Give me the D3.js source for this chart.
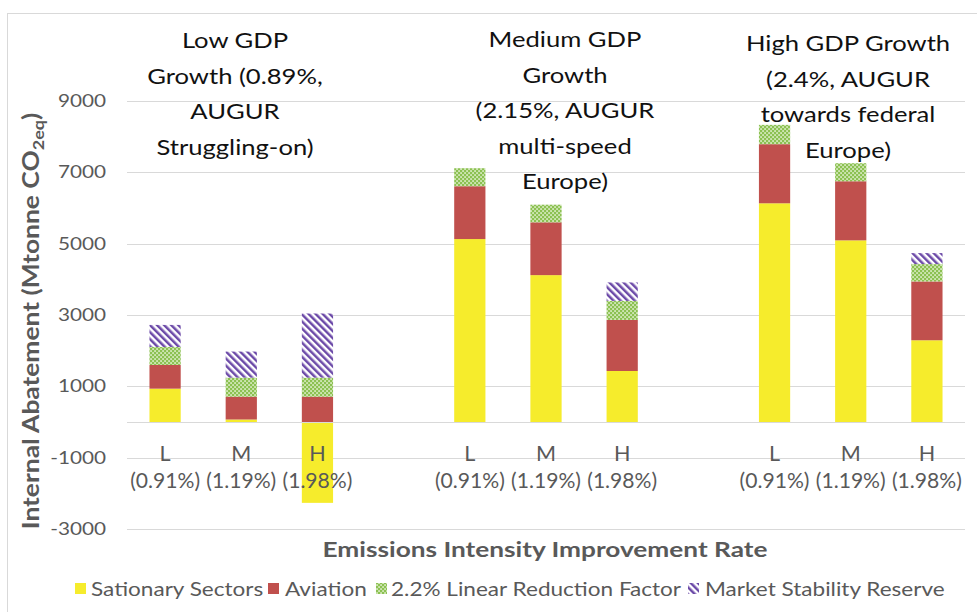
<!DOCTYPE html>
<html>
<head>
<meta charset="utf-8">
<script src="https://cdn.jsdelivr.net/npm/d3@7/dist/d3.min.js"></script>
<style>
  html, body { margin: 0; padding: 0; background: #fff; }
  svg { display: block; font-family: Lato, "Open Sans", sans-serif; }
</style>
</head>
<body>
<svg id="chart" width="977" height="612"></svg>
<script>
// Scenario groups (GDP growth) and emission-intensity improvement rates
const groupTitles = [
  ["Low GDP", "Growth (0.89%,", "AUGUR", "Struggling-on)"],
  ["Medium GDP", "Growth", "(2.15%, AUGUR", "multi-speed", "Europe)"],
  ["High GDP Growth", "(2.4%, AUGUR", "towards federal", "Europe)"]
];
const rates = ["L", "M", "H"];
const rateLabels = ["(0.91%)", "(1.19%)", "(1.98%)"];

// Abatement per bar (Mtonne CO2eq), ordered Low L/M/H, Medium L/M/H, High L/M/H
const stationary = [935, 70, -2267, 5129, 4118, 1430, 6132, 5093, 2292];
const aviation   = [663, 640, 710, 1481, 1480, 1432, 1657, 1657, 1649];
const linearRF   = [506, 534, 534, 505, 495, 534, 542, 506, 486];
const msr        = [618, 731, 1798, 0, 0, 517, 0, 0, 309];

const seriesNames = ["Sationary Sectors", "Aviation", "2.2% Linear Reduction Factor", "Market Stability Reserve"];
const seriesKeys = ["stationary", "aviation", "linear", "msr"];

const yTicks = [-3000, -1000, 1000, 3000, 5000, 7000, 9000];

// Text in this chart is drawn widened along its reading direction
const SX = 1.22;

const svg = d3.select("#chart");
const defs = svg.append("defs");

// Dotted green fill
const pg = defs.append("pattern").attr("id", "pat-green")
  .attr("width", 4).attr("height", 4).attr("patternUnits", "userSpaceOnUse");
pg.append("rect").attr("width", 4).attr("height", 4).attr("fill", "#8cc152");
pg.append("rect").attr("x", 0.3).attr("y", 0.3).attr("width", 1.5).attr("height", 1.5).attr("fill", "#f4fbe9");
pg.append("rect").attr("x", 2.3).attr("y", 2.3).attr("width", 1.5).attr("height", 1.5).attr("fill", "#f4fbe9");

// Wide downward-diagonal purple stripes
const pp = defs.append("pattern").attr("id", "pat-purple")
  .attr("width", 5).attr("height", 5).attr("patternUnits", "userSpaceOnUse")
  .attr("patternTransform", "rotate(-45)");
pp.append("rect").attr("width", 5).attr("height", 5).attr("fill", "#ffffff");
pp.append("rect").attr("x", 0).attr("y", 0).attr("width", 2.5).attr("height", 5).attr("fill", "#6c4aa8");

const fills = {
  stationary: "#f6ec2c",
  aviation: "#c0504d",
  linear: "url(#pat-green)",
  msr: "url(#pat-purple)"
};

// Outer chart border
svg.append("rect").attr("x", 7.5).attr("y", 13.5).attr("width", 1000).attr("height", 700)
  .attr("fill", "none").attr("stroke", "#d9d9d9").attr("stroke-width", 1);

const plot = { left: 127, right: 965, top: 101, bottom: 529 };

// 11 slots: three bars per group with one empty slot between groups
const slotIndex = d3.range(11);
const x = d3.scaleBand().domain(slotIndex)
  .range([plot.left, plot.right]).paddingInner(0.59).paddingOuter(0.295);
const barSlot = i => Math.floor(i / 3) * 4 + (i % 3);

const y = d3.scaleLinear().domain([-3000, 9000]).range([plot.bottom, plot.top]);

// Gridlines
svg.append("g").selectAll("line").data(yTicks).join("line")
  .attr("x1", plot.left).attr("x2", plot.right)
  .attr("y1", d => Math.round(y(d)) + 0.5).attr("y2", d => Math.round(y(d)) + 0.5)
  .attr("stroke", "#d9d9d9").attr("stroke-width", 1);

function stretched(sel, px, py, sx) {
  return sel.attr("transform", `translate(${px},${py}) scale(${sx || SX},1)`);
}

// Y tick labels
const yAxisG = svg.append("g");
yTicks.forEach(t => {
  stretched(yAxisG.append("text"), 106, y(t) + 6)
    .attr("text-anchor", "end").attr("font-size", 17).attr("fill", "#595959").text(t);
});

// Stacked bars
const rows = stationary.map((v, i) => ({
  idx: i, stationary: v, aviation: aviation[i], linear: linearRF[i], msr: msr[i]
}));
const stack = d3.stack().keys(seriesKeys).offset(d3.stackOffsetDiverging);
const layers = stack(rows);

const barsG = svg.append("g");
layers.forEach(layer => {
  barsG.append("g").selectAll("rect").data(layer.filter(d => d[1] !== d[0])).join("rect")
    .attr("x", d => x(barSlot(d.data.idx)))
    .attr("width", x.bandwidth())
    .attr("y", d => y(Math.max(d[0], d[1])))
    .attr("height", d => Math.abs(y(d[0]) - y(d[1])))
    .attr("fill", fills[layer.key]);
});

// Zero line
svg.append("line").attr("x1", plot.left).attr("x2", plot.right)
  .attr("y1", Math.round(y(0)) + 0.5).attr("y2", Math.round(y(0)) + 0.5)
  .attr("stroke", "#d9d9d9").attr("stroke-width", 1);

// Category labels
const catG = svg.append("g");
rows.forEach((r, i) => {
  const cx = x(barSlot(i)) + x.bandwidth() / 2;
  stretched(catG.append("text"), cx, 461, 0.98).attr("text-anchor", "middle")
    .attr("font-size", 22).attr("fill", "#595959").text(rates[i % 3]);
  stretched(catG.append("text"), cx, 488, 0.96).attr("text-anchor", "middle")
    .attr("font-size", 22).attr("fill", "#595959").text(rateLabels[i % 3]);
});

// Group titles
const titleCenters = [235, 565, 848];
const titleBase = [48, 47, 51];
const titleG = svg.append("g");
groupTitles.forEach((lines, g) => {
  lines.forEach((ln, k) => {
    stretched(titleG.append("text"), titleCenters[g], titleBase[g] + k * 35.5)
      .attr("text-anchor", "middle").attr("font-size", 21).attr("fill", "#111").text(ln);
  });
});

// Axis titles
stretched(svg.append("text"), 545, 557).attr("text-anchor", "middle")
  .attr("font-size", 21.5).attr("font-weight", "bold").attr("fill", "#595959")
  .text("Emissions Intensity Improvement Rate");

const yTitle = svg.append("text")
  .attr("transform", `translate(39,321) rotate(-90) scale(1.2,1)`)
  .attr("text-anchor", "middle").attr("font-size", 22).attr("font-weight", "bold").attr("fill", "#595959");
yTitle.append("tspan").text("Internal Abatement (Mtonne CO");
yTitle.append("tspan").attr("font-size", 15).attr("dy", 5).text("2eq");
yTitle.append("tspan").attr("dy", -5).text(")");

// Legend
const legendItems = [
  { key: "stationary", sx: 75, tx: 91 },
  { key: "aviation", sx: 268, tx: 285 },
  { key: "linear", sx: 376, tx: 391 },
  { key: "msr", sx: 688, tx: 705 }
];
const legG = svg.append("g");
legendItems.forEach((it, i) => {
  legG.append("rect").attr("x", it.sx).attr("y", 583).attr("width", 11).attr("height", 11)
    .attr("fill", fills[it.key]);
  stretched(legG.append("text"), it.tx, 596).attr("font-size", 18.5).attr("fill", "#595959")
    .text(seriesNames[i]);
});
</script>
</body>
</html>
